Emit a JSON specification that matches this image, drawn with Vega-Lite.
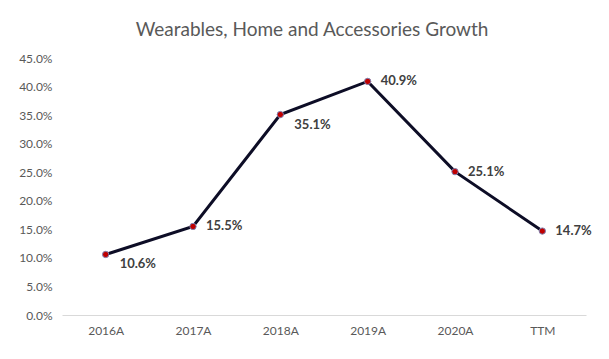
{
  "$schema": "https://vega.github.io/schema/vega-lite/v6.json",
  "width": 524,
  "height": 257,
  "autosize": {"type": "none"},
  "padding": {"left": 62, "top": 58, "right": 23, "bottom": 44},
  "background": "white",
  "config": {"view": {"stroke": null}, "font": "Lato"},
  "title": {
    "text": "Wearables, Home and Accessories Growth",
    "fontSize": 19,
    "fontWeight": "normal",
    "color": "#595959",
    "font": "Lato",
    "offset": 12,
    "dx": -12
  },
  "data": {
    "values": [
      {"year": "2016A", "growth": 0.106},
      {"year": "2017A", "growth": 0.155},
      {"year": "2018A", "growth": 0.351},
      {"year": "2019A", "growth": 0.409},
      {"year": "2020A", "growth": 0.251},
      {"year": "TTM", "growth": 0.147}
    ]
  },
  "encoding": {
    "x": {
      "field": "year",
      "type": "nominal",
      "sort": null,
      "scale": {"paddingInner": 0, "paddingOuter": 0.5},
      "axis": {
        "title": null,
        "labelAngle": 0,
        "ticks": false,
        "domainColor": "#d9d9d9",
        "labelColor": "#595959",
        "labelFontSize": 12,
        "labelPadding": 10
      }
    },
    "y": {
      "field": "growth",
      "type": "quantitative",
      "scale": {"domain": [0, 0.45], "nice": false},
      "axis": {
        "title": null,
        "format": ".1%",
        "values": [0, 0.05, 0.1, 0.15, 0.2, 0.25, 0.3, 0.35, 0.4, 0.45],
        "labelOverlap": false,
        "labelBound": false,
        "labelFlush": false,
        "grid": false,
        "domain": false,
        "ticks": false,
        "labelColor": "#595959",
        "labelFontSize": 12,
        "labelPadding": 10
      }
    }
  },
  "layer": [
    {"mark": {"type": "line", "color": "#0d0d26", "strokeWidth": 3}},
    {"mark": {"type": "point", "filled": true, "fill": "#c00000", "stroke": "#8080b0", "strokeWidth": 1, "size": 40, "opacity": 1}},
    {
      "transform": [{"filter": "datum.year != '2016A' && datum.year != '2018A'"}],
      "mark": {"type": "text", "align": "left", "baseline": "middle", "dx": 13, "fontSize": 13, "fontWeight": "bold", "color": "#404040"},
      "encoding": {"text": {"field": "growth", "type": "quantitative", "format": ".1%"}}
    },
    {
      "transform": [{"filter": "datum.year == '2016A' || datum.year == '2018A'"}],
      "mark": {"type": "text", "align": "left", "baseline": "middle", "dx": 14, "dy": 10, "fontSize": 13, "fontWeight": "bold", "color": "#404040"},
      "encoding": {"text": {"field": "growth", "type": "quantitative", "format": ".1%"}}
    }
  ]
}
